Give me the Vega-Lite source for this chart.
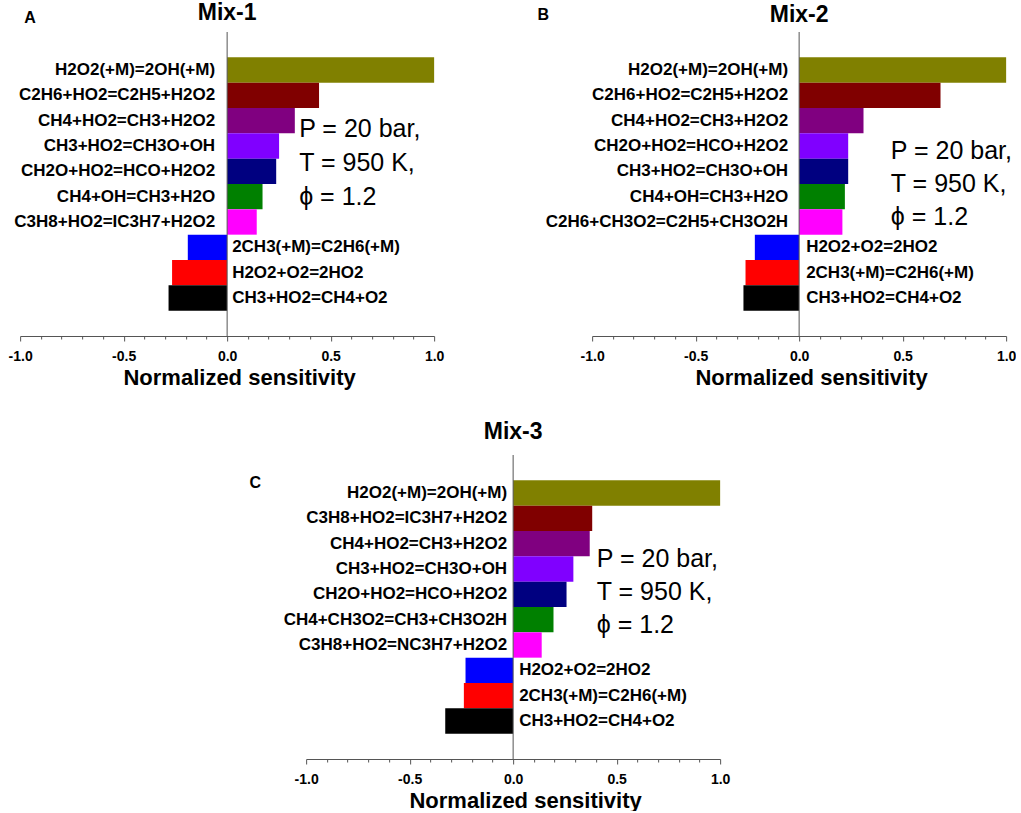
{
  "$schema": "https://vega.github.io/schema/vega-lite/v6.json",
  "padding": {"left": 8, "top": 1, "right": 0, "bottom": 0},
  "background": "white",
  "datasets": {
    "mix1": [
      {"reaction": "H2O2(+M)=2OH(+M)", "sensitivity": 1.0},
      {"reaction": "C2H6+HO2=C2H5+H2O2", "sensitivity": 0.444},
      {"reaction": "CH4+HO2=CH3+H2O2", "sensitivity": 0.327},
      {"reaction": "CH3+HO2=CH3O+OH", "sensitivity": 0.251},
      {"reaction": "CH2O+HO2=HCO+H2O2", "sensitivity": 0.237},
      {"reaction": "CH4+OH=CH3+H2O", "sensitivity": 0.171},
      {"reaction": "C3H8+HO2=IC3H7+H2O2", "sensitivity": 0.143},
      {"reaction": "2CH3(+M)=C2H6(+M)", "sensitivity": -0.19},
      {"reaction": "H2O2+O2=2HO2", "sensitivity": -0.266},
      {"reaction": "CH3+HO2=CH4+O2", "sensitivity": -0.283}
    ],
    "mix2": [
      {"reaction": "H2O2(+M)=2OH(+M)", "sensitivity": 1.0},
      {"reaction": "C2H6+HO2=C2H5+H2O2", "sensitivity": 0.683},
      {"reaction": "CH4+HO2=CH3+H2O2", "sensitivity": 0.311},
      {"reaction": "CH2O+HO2=HCO+H2O2", "sensitivity": 0.237},
      {"reaction": "CH3+HO2=CH3O+OH", "sensitivity": 0.237},
      {"reaction": "CH4+OH=CH3+H2O", "sensitivity": 0.221},
      {"reaction": "C2H6+CH3O2=C2H5+CH3O2H", "sensitivity": 0.209},
      {"reaction": "H2O2+O2=2HO2", "sensitivity": -0.214},
      {"reaction": "2CH3(+M)=C2H6(+M)", "sensitivity": -0.259},
      {"reaction": "CH3+HO2=CH4+O2", "sensitivity": -0.269}
    ],
    "mix3": [
      {"reaction": "H2O2(+M)=2OH(+M)", "sensitivity": 1.0},
      {"reaction": "C3H8+HO2=IC3H7+H2O2", "sensitivity": 0.382},
      {"reaction": "CH4+HO2=CH3+H2O2", "sensitivity": 0.37},
      {"reaction": "CH3+HO2=CH3O+OH", "sensitivity": 0.291},
      {"reaction": "CH2O+HO2=HCO+H2O2", "sensitivity": 0.258},
      {"reaction": "CH4+CH3O2=CH3+CH3O2H", "sensitivity": 0.195},
      {"reaction": "C3H8+HO2=NC3H7+H2O2", "sensitivity": 0.138},
      {"reaction": "H2O2+O2=2HO2", "sensitivity": -0.23},
      {"reaction": "2CH3(+M)=C2H6(+M)", "sensitivity": -0.238},
      {"reaction": "CH3+HO2=CH4+O2", "sensitivity": -0.328}
    ]
  },
  "center": true,
  "spacing": 32,
  "resolve": {"scale": {"x": "independent", "y": "independent", "color": "independent"}},
  "vconcat": [
    {
      "spacing": 93,
      "resolve": {"scale": {"x": "independent", "y": "independent", "color": "independent"}},
      "hconcat": [
        {
          "width": 414, "height": 304,
          "resolve": {"axis": {"x": "independent"}},
          "layer": [
            {
              "data": {"name": "mix1"},
              "mark": {"type": "bar"},
              "encoding": {
                "y": {"field": "reaction", "type": "nominal", "axis": null,
                  "scale": {"domain": ["H2O2(+M)=2OH(+M)", "C2H6+HO2=C2H5+H2O2", "CH4+HO2=CH3+H2O2", "CH3+HO2=CH3O+OH", "CH2O+HO2=HCO+H2O2", "CH4+OH=CH3+H2O", "C3H8+HO2=IC3H7+H2O2", "2CH3(+M)=C2H6(+M)", "H2O2+O2=2HO2", "CH3+HO2=CH4+O2"], "paddingInner": 0, "paddingOuter": 1.25}},
                "x": {"field": "sensitivity", "type": "quantitative", "title": "Normalized sensitivity",
                  "scale": {"domain": [-1, 1], "nice": false, "zero": false},
                  "axis": {"orient": "bottom", "values": [-1, -0.5, 0, 0.5, 1], "labelExpr": "(datum.value < -0.001 ? '-' : '') + format(abs(datum.value), '.1f')", "tickSize": 5}},
                "color": {"field": "reaction", "type": "nominal", "legend": null,
                  "scale": {"domain": ["H2O2(+M)=2OH(+M)", "C2H6+HO2=C2H5+H2O2", "CH4+HO2=CH3+H2O2", "CH3+HO2=CH3O+OH", "CH2O+HO2=HCO+H2O2", "CH4+OH=CH3+H2O", "C3H8+HO2=IC3H7+H2O2", "2CH3(+M)=C2H6(+M)", "H2O2+O2=2HO2", "CH3+HO2=CH4+O2"],
                    "range": ["#808000", "#800000", "#800080", "#8000FF", "#000080", "#008000", "#FF00FF", "#0000FF", "#FF0000", "#000000"]}}
              }
            },
            {
              "data": {"values": [{"zero": 0}]},
              "mark": {"type": "rule", "color": "#555", "strokeWidth": 1},
              "encoding": {"x": {"field": "zero", "type": "quantitative",
                "axis": {"orient": "bottom", "values": [-0.9, -0.8, -0.7, -0.6, -0.4, -0.3, -0.2, -0.1, 0.1, 0.2, 0.3, 0.4, 0.6, 0.7, 0.8, 0.9], "labels": false, "domain": false, "title": null, "tickSize": 3}}}
            },
            {
              "data": {"name": "mix1"},
              "transform": [{"filter": "datum.sensitivity > 0"}],
              "mark": {"type": "text", "align": "right", "baseline": "middle", "dx": -12, "fontSize": 17, "fontWeight": "bold", "color": "#000"},
              "encoding": {"y": {"field": "reaction", "type": "nominal"}, "x": {"datum": 0, "type": "quantitative", "axis": null}, "text": {"field": "reaction"}}
            },
            {
              "data": {"name": "mix1"},
              "transform": [{"filter": "datum.sensitivity < 0"}],
              "mark": {"type": "text", "align": "left", "baseline": "middle", "dx": 5, "fontSize": 17, "fontWeight": "bold", "color": "#000"},
              "encoding": {"y": {"field": "reaction", "type": "nominal"}, "x": {"datum": 0, "type": "quantitative", "axis": null}, "text": {"field": "reaction"}}
            },
            {
              "data": {"values": [{"title": "Mix-1", "letter": "A", "note": ["P = 20 bar,", "T = 950 K,", " ϕ = 1.2"]}]},
              "mark": {"type": "text", "align": "center", "baseline": "alphabetic", "dy": -50.5, "fontSize": 23, "fontWeight": "bold", "color": "#000"},
              "encoding": {"y": {"datum": "H2O2(+M)=2OH(+M)", "type": "nominal"}, "x": {"datum": 0, "type": "quantitative", "axis": null}, "text": {"field": "title"}}
            },
            {
              "data": {"values": [{"title": "Mix-1", "letter": "A", "note": ["P = 20 bar,", "T = 950 K,", " ϕ = 1.2"]}]},
              "mark": {"type": "text", "align": "center", "baseline": "middle", "dy": -52.5, "fontSize": 16, "fontWeight": "bold", "color": "#000"},
              "encoding": {"y": {"datum": "H2O2(+M)=2OH(+M)", "type": "nominal"}, "x": {"datum": -0.952, "type": "quantitative", "axis": null}, "text": {"field": "letter"}}
            },
            {
              "data": {"values": [{"title": "Mix-1", "letter": "A", "note": ["P = 20 bar,", "T = 950 K,", " ϕ = 1.2"]}]},
              "mark": {"type": "text", "align": "left", "baseline": "middle", "dy": -42, "fontSize": 25, "lineHeight": 34, "color": "#000"},
              "encoding": {"y": {"datum": "CH2O+HO2=HCO+H2O2", "type": "nominal"}, "x": {"datum": 0.348, "type": "quantitative", "axis": null}, "text": {"field": "note"}}
            }
          ]
        },
        {
          "width": 414, "height": 304,
          "resolve": {"axis": {"x": "independent"}},
          "layer": [
            {
              "data": {"name": "mix2"},
              "mark": {"type": "bar"},
              "encoding": {
                "y": {"field": "reaction", "type": "nominal", "axis": null,
                  "scale": {"domain": ["H2O2(+M)=2OH(+M)", "C2H6+HO2=C2H5+H2O2", "CH4+HO2=CH3+H2O2", "CH2O+HO2=HCO+H2O2", "CH3+HO2=CH3O+OH", "CH4+OH=CH3+H2O", "C2H6+CH3O2=C2H5+CH3O2H", "H2O2+O2=2HO2", "2CH3(+M)=C2H6(+M)", "CH3+HO2=CH4+O2"], "paddingInner": 0, "paddingOuter": 1.25}},
                "x": {"field": "sensitivity", "type": "quantitative", "title": "Normalized sensitivity",
                  "scale": {"domain": [-1, 1], "nice": false, "zero": false},
                  "axis": {"orient": "bottom", "values": [-1, -0.5, 0, 0.5, 1], "labelExpr": "(datum.value < -0.001 ? '-' : '') + format(abs(datum.value), '.1f')", "tickSize": 5}},
                "color": {"field": "reaction", "type": "nominal", "legend": null,
                  "scale": {"domain": ["H2O2(+M)=2OH(+M)", "C2H6+HO2=C2H5+H2O2", "CH4+HO2=CH3+H2O2", "CH2O+HO2=HCO+H2O2", "CH3+HO2=CH3O+OH", "CH4+OH=CH3+H2O", "C2H6+CH3O2=C2H5+CH3O2H", "H2O2+O2=2HO2", "2CH3(+M)=C2H6(+M)", "CH3+HO2=CH4+O2"],
                    "range": ["#808000", "#800000", "#800080", "#8000FF", "#000080", "#008000", "#FF00FF", "#0000FF", "#FF0000", "#000000"]}}
              }
            },
            {
              "data": {"values": [{"zero": 0}]},
              "mark": {"type": "rule", "color": "#555", "strokeWidth": 1},
              "encoding": {"x": {"field": "zero", "type": "quantitative",
                "axis": {"orient": "bottom", "values": [-0.9, -0.8, -0.7, -0.6, -0.4, -0.3, -0.2, -0.1, 0.1, 0.2, 0.3, 0.4, 0.6, 0.7, 0.8, 0.9], "labels": false, "domain": false, "title": null, "tickSize": 3}}}
            },
            {
              "data": {"name": "mix2"},
              "transform": [{"filter": "datum.sensitivity > 0"}],
              "mark": {"type": "text", "align": "right", "baseline": "middle", "dx": -11, "fontSize": 17, "fontWeight": "bold", "color": "#000"},
              "encoding": {"y": {"field": "reaction", "type": "nominal"}, "x": {"datum": 0, "type": "quantitative", "axis": null}, "text": {"field": "reaction"}}
            },
            {
              "data": {"name": "mix2"},
              "transform": [{"filter": "datum.sensitivity < 0"}],
              "mark": {"type": "text", "align": "left", "baseline": "middle", "dx": 7, "fontSize": 17, "fontWeight": "bold", "color": "#000"},
              "encoding": {"y": {"field": "reaction", "type": "nominal"}, "x": {"datum": 0, "type": "quantitative", "axis": null}, "text": {"field": "reaction"}}
            },
            {
              "data": {"values": [{"title": "Mix-2", "letter": "B", "note": ["P = 20 bar,", "T = 950 K,", "ϕ = 1.2"]}]},
              "mark": {"type": "text", "align": "center", "baseline": "alphabetic", "dy": -48.5, "fontSize": 23, "fontWeight": "bold", "color": "#000"},
              "encoding": {"y": {"datum": "H2O2(+M)=2OH(+M)", "type": "nominal"}, "x": {"datum": 0, "type": "quantitative", "axis": null}, "text": {"field": "title"}}
            },
            {
              "data": {"values": [{"title": "Mix-2", "letter": "B", "note": ["P = 20 bar,", "T = 950 K,", "ϕ = 1.2"]}]},
              "mark": {"type": "text", "align": "center", "baseline": "middle", "dy": -55.5, "fontSize": 16, "fontWeight": "bold", "color": "#000"},
              "encoding": {"y": {"datum": "H2O2(+M)=2OH(+M)", "type": "nominal"}, "x": {"datum": -1.236, "type": "quantitative", "axis": null}, "text": {"field": "letter"}}
            },
            {
              "data": {"values": [{"title": "Mix-2", "letter": "B", "note": ["P = 20 bar,", "T = 950 K,", "ϕ = 1.2"]}]},
              "mark": {"type": "text", "align": "left", "baseline": "middle", "dy": -20, "fontSize": 25, "lineHeight": 33, "color": "#000"},
              "encoding": {"y": {"datum": "CH3+HO2=CH3O+OH", "type": "nominal"}, "x": {"datum": 0.443, "type": "quantitative", "axis": null}, "text": {"field": "note"}}
            }
          ]
        }
      ]
    },
    {
      "width": 414, "height": 304,
      "resolve": {"axis": {"x": "independent"}},
      "layer": [
        {
          "data": {"name": "mix3"},
          "mark": {"type": "bar"},
          "encoding": {
            "y": {"field": "reaction", "type": "nominal", "axis": null,
              "scale": {"domain": ["H2O2(+M)=2OH(+M)", "C3H8+HO2=IC3H7+H2O2", "CH4+HO2=CH3+H2O2", "CH3+HO2=CH3O+OH", "CH2O+HO2=HCO+H2O2", "CH4+CH3O2=CH3+CH3O2H", "C3H8+HO2=NC3H7+H2O2", "H2O2+O2=2HO2", "2CH3(+M)=C2H6(+M)", "CH3+HO2=CH4+O2"], "paddingInner": 0, "paddingOuter": 1.25}},
            "x": {"field": "sensitivity", "type": "quantitative", "title": "Normalized sensitivity",
              "scale": {"domain": [-1, 1], "nice": false, "zero": false},
              "axis": {"orient": "bottom", "values": [-1, -0.5, 0, 0.5, 1], "labelExpr": "(datum.value < -0.001 ? '-' : '') + format(abs(datum.value), '.1f')", "tickSize": 5}},
            "color": {"field": "reaction", "type": "nominal", "legend": null,
              "scale": {"domain": ["H2O2(+M)=2OH(+M)", "C3H8+HO2=IC3H7+H2O2", "CH4+HO2=CH3+H2O2", "CH3+HO2=CH3O+OH", "CH2O+HO2=HCO+H2O2", "CH4+CH3O2=CH3+CH3O2H", "C3H8+HO2=NC3H7+H2O2", "H2O2+O2=2HO2", "2CH3(+M)=C2H6(+M)", "CH3+HO2=CH4+O2"],
                "range": ["#808000", "#800000", "#800080", "#8000FF", "#000080", "#008000", "#FF00FF", "#0000FF", "#FF0000", "#000000"]}}
          }
        },
        {
          "data": {"values": [{"zero": 0}]},
          "mark": {"type": "rule", "color": "#555", "strokeWidth": 1},
          "encoding": {"x": {"field": "zero", "type": "quantitative",
            "axis": {"orient": "bottom", "values": [-0.9, -0.8, -0.7, -0.6, -0.4, -0.3, -0.2, -0.1, 0.1, 0.2, 0.3, 0.4, 0.6, 0.7, 0.8, 0.9], "labels": false, "domain": false, "title": null, "tickSize": 3}}}
        },
        {
          "data": {"name": "mix3"},
          "transform": [{"filter": "datum.sensitivity > 0"}],
          "mark": {"type": "text", "align": "right", "baseline": "middle", "dx": -6, "fontSize": 17, "fontWeight": "bold", "color": "#000"},
          "encoding": {"y": {"field": "reaction", "type": "nominal"}, "x": {"datum": 0, "type": "quantitative", "axis": null}, "text": {"field": "reaction"}}
        },
        {
          "data": {"name": "mix3"},
          "transform": [{"filter": "datum.sensitivity < 0"}],
          "mark": {"type": "text", "align": "left", "baseline": "middle", "dx": 6, "fontSize": 17, "fontWeight": "bold", "color": "#000"},
          "encoding": {"y": {"field": "reaction", "type": "nominal"}, "x": {"datum": 0, "type": "quantitative", "axis": null}, "text": {"field": "reaction"}}
        },
        {
          "data": {"values": [{"title": "Mix-3", "letter": "C", "note": ["P = 20 bar,", "T = 950 K,", "ϕ = 1.2"]}]},
          "mark": {"type": "text", "align": "center", "baseline": "alphabetic", "dy": -54.5, "fontSize": 23, "fontWeight": "bold", "color": "#000"},
          "encoding": {"y": {"datum": "H2O2(+M)=2OH(+M)", "type": "nominal"}, "x": {"datum": 0, "type": "quantitative", "axis": null}, "text": {"field": "title"}}
        },
        {
          "data": {"values": [{"title": "Mix-3", "letter": "C", "note": ["P = 20 bar,", "T = 950 K,", "ϕ = 1.2"]}]},
          "mark": {"type": "text", "align": "center", "baseline": "middle", "dy": -10.5, "fontSize": 16, "fontWeight": "bold", "color": "#000"},
          "encoding": {"y": {"datum": "H2O2(+M)=2OH(+M)", "type": "nominal"}, "x": {"datum": -1.246, "type": "quantitative", "axis": null}, "text": {"field": "letter"}}
        },
        {
          "data": {"values": [{"title": "Mix-3", "letter": "C", "note": ["P = 20 bar,", "T = 950 K,", "ϕ = 1.2"]}]},
          "mark": {"type": "text", "align": "left", "baseline": "middle", "dy": -35, "fontSize": 25, "lineHeight": 33, "color": "#000"},
          "encoding": {"y": {"datum": "CH2O+HO2=HCO+H2O2", "type": "nominal"}, "x": {"datum": 0.404, "type": "quantitative", "axis": null}, "text": {"field": "note"}}
        }
      ]
    }
  ],
  "config": {
    "font": "Liberation Sans",
    "view": {"stroke": null},
    "text": {"font": "Liberation Sans"},
    "axisX": {
      "domainColor": "#555", "tickColor": "#555", "grid": false,
      "labelColor": "#000", "labelFont": "Liberation Sans", "labelFontSize": 14, "labelFontWeight": "bold",
      "labelPadding": 8, "labelFlush": false, "labelOverlap": false,
      "titleColor": "#000", "titleFont": "Liberation Sans", "titleFontSize": 22, "titleFontWeight": "bold",
      "titlePadding": 4, "titleX": 219
    }
  }
}
